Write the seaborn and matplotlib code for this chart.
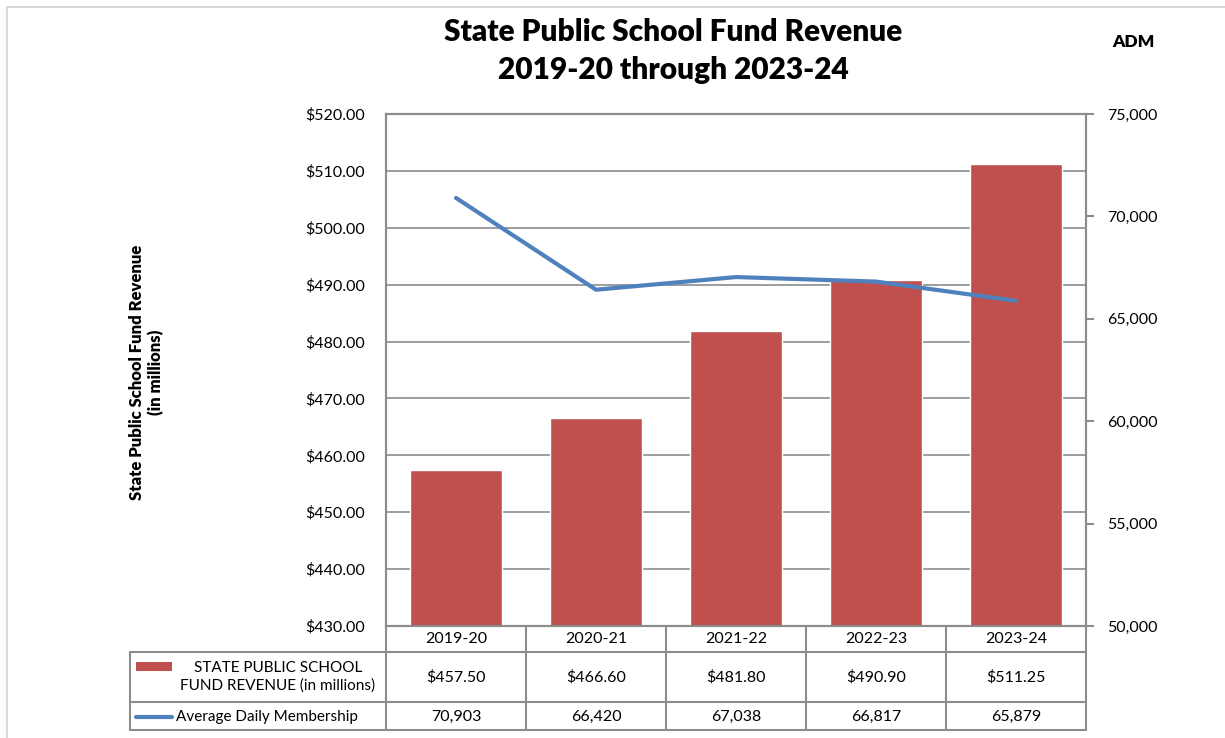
import pandas as pd
import seaborn as sns
import matplotlib.pyplot as plt
from matplotlib.patches import Rectangle
from matplotlib.ticker import FuncFormatter, MultipleLocator

years = ["2019-20", "2020-21", "2021-22", "2022-23", "2023-24"]
revenue = [457.50, 466.60, 481.80, 490.90, 511.25]
adm = [70903, 66420, 67038, 66817, 65879]
bar_name = "STATE PUBLIC SCHOOL\nFUND REVENUE (in millions)"
line_name = "Average Daily Membership"

sns.set_style("white")
plt.rcParams["font.family"] = ["Lato", "DejaVu Sans"]
plt.rcParams["text.color"] = "black"

bar_c = "#C0504D"
line_c = "#4F81BD"
grid_c = "#8C8C8C"
W, H = 1225, 738

df = pd.DataFrame({"year": years, "revenue": revenue, "adm": adm})

fig = plt.figure(figsize=(12.25, 7.38), dpi=100)
ax = fig.add_axes([386 / W, 112 / H, 700 / W, 512 / H])
sns.barplot(data=df, x="year", y="revenue", color=bar_c, saturation=1,
            width=0.66, ax=ax)
ax.set_ylim(430, 520)
ax.yaxis.set_major_locator(MultipleLocator(10))
ax.yaxis.set_major_formatter(FuncFormatter(lambda v, p: f"${v:.2f}"))
ax.grid(axis="y", color=grid_c, lw=1.2)
ax.set_axisbelow(True)
ax.tick_params(axis="y", length=0, pad=15, labelsize=11.5, labelcolor="black")
ax.set_xlabel("")
ax.set_ylabel("")
for s in ax.spines.values():
    s.set_color(grid_c)
    s.set_linewidth(1.5)

ax2 = ax.twinx()
sns.lineplot(data=df, x="year", y="adm", color=line_c, lw=3, sort=False, ax=ax2)
ax2.set_ylim(50000, 75000)
ax2.yaxis.set_major_locator(MultipleLocator(5000))
ax2.yaxis.set_major_formatter(FuncFormatter(lambda v, p: f"{v:,.0f}"))
ax2.tick_params(axis="y", length=6, width=1.5, color=grid_c, pad=9,
                labelsize=11.5, labelcolor="black")
ax2.set_ylabel("")
ax2.set_xlabel("")
for s in ax2.spines.values():
    s.set_color(grid_c)
    s.set_linewidth(1.5)
ax.set_xlim(-0.5, 4.5)
ax.set_xticks([])
ax2.set_xticks([])

# data table under the plot
tax = fig.add_axes([130 / W, 8 / H, 956 / W, 104 / H])
x_left = -0.5 - 256 / 140
tax.set_xlim(x_left, 4.5)
tax.set_ylim(0, 104)
tax.axis("off")
lk = dict(color=grid_c, lw=1.5, clip_on=False)
for y in [0, 28, 78]:
    tax.plot([x_left, 4.5], [y, y], **lk)
for i in range(6):
    tax.plot([i - 0.5, i - 0.5], [0, 104], **lk)
tax.plot([x_left, x_left], [0, 78], **lk)

for i, yr in enumerate(years):
    tax.text(i, 91, yr, ha="center", va="center", fontsize=11.5)
    tax.text(i, 53, f"${revenue[i]:.2f}", ha="center", va="center", fontsize=11.5)
    tax.text(i, 13, f"{adm[i]:,}", ha="center", va="center", fontsize=11.5)

tax.add_patch(Rectangle((x_left + 6 / 140, 59), 36 / 140, 9, color=bar_c, lw=0))
tax.text(-0.5 - 108 / 140, 53, bar_name, ha="center", va="center",
         fontsize=11, linespacing=1.35)
tax.plot([x_left + 6 / 140, x_left + 42 / 140], [13, 13], color=line_c, lw=3)
tax.text(x_left + 46 / 140, 13, line_name, ha="left", va="center", fontsize=11)

fig.text(673 / W, 1 - 32 / H, "State Public School Fund Revenue",
         ha="center", va="center", fontsize=21.5, fontweight="heavy")
fig.text(673 / W, 1 - 70 / H, "2019-20 through 2023-24",
         ha="center", va="center", fontsize=21.5, fontweight="heavy")
fig.text(147 / W, 1 - 372 / H, "State Public School Fund Revenue\n(in millions)",
         rotation=90, ha="center", va="center", fontsize=12, fontweight="heavy",
         linespacing=1.2)
fig.text(1133 / W, 1 - 42 / H, "ADM", ha="center", va="center",
         fontsize=12.5, fontweight="heavy")

fig.patches.append(Rectangle((7 / W, -0.05), 1.2, 1.05 - 7 / H,
                             transform=fig.transFigure, fill=False,
                             ec="#D9D9D9", lw=1.5))

fig.savefig("out.png", dpi=100)
